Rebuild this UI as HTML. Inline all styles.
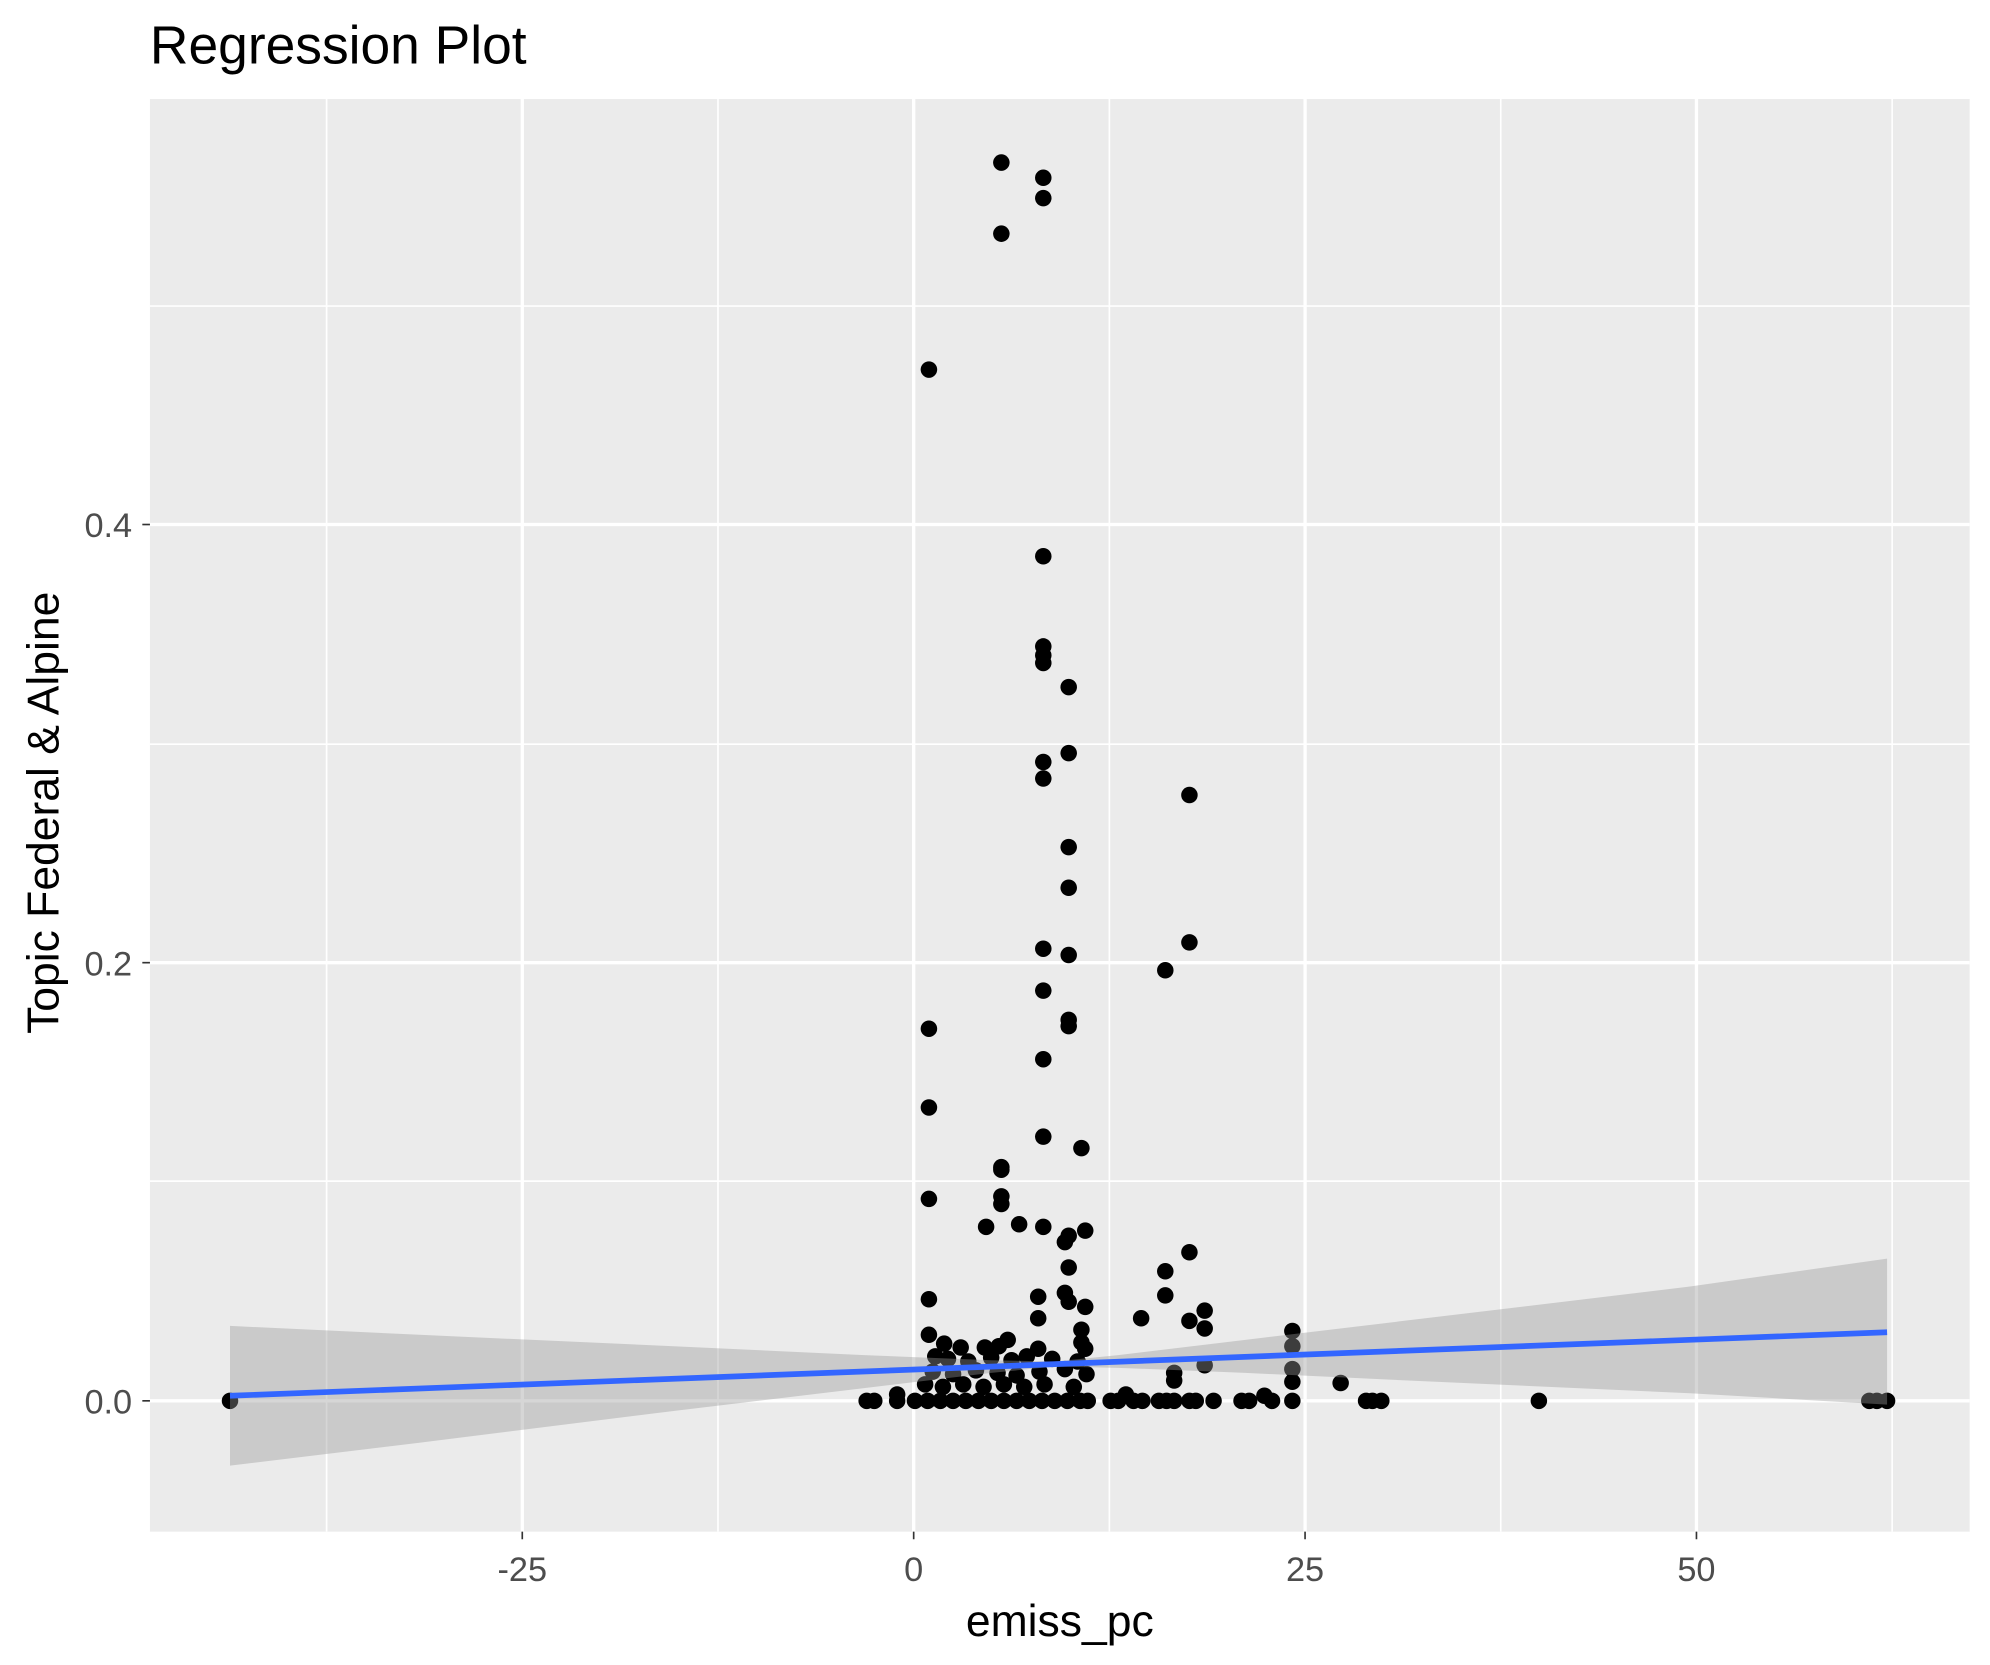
<!DOCTYPE html>
<html><head><meta charset="utf-8"><style>html,body{margin:0;padding:0;background:#fff}svg{display:block}</style></head><body>
<svg width="1990" height="1665" viewBox="0 0 1566 1311" preserveAspectRatio="none" xmlns="http://www.w3.org/2000/svg" font-family="Liberation Sans, Arial, sans-serif">
<rect x="0" y="0" width="1566" height="1311" fill="#fff"/>
<rect x="118" y="78" width="1432" height="1128" fill="#EBEBEB"/>
<g stroke="#fff" stroke-width="1.3">
<line x1="118" x2="1550" y1="930" y2="930"/><line x1="118" x2="1550" y1="586" y2="586"/><line x1="118" x2="1550" y1="241" y2="241"/>
<line x1="257" x2="257" y1="78" y2="1206"/><line x1="565" x2="565" y1="78" y2="1206"/><line x1="873" x2="873" y1="78" y2="1206"/><line x1="1181" x2="1181" y1="78" y2="1206"/><line x1="1489" x2="1489" y1="78" y2="1206"/>
</g>
<g stroke="#fff" stroke-width="2.6">
<line x1="118" x2="1550" y1="1103" y2="1103"/><line x1="118" x2="1550" y1="758" y2="758"/><line x1="118" x2="1550" y1="413" y2="413"/>
<line x1="411" x2="411" y1="78" y2="1206"/><line x1="719" x2="719" y1="78" y2="1206"/><line x1="1027" x2="1027" y1="78" y2="1206"/><line x1="1335" x2="1335" y1="78" y2="1206"/>
</g>
<g fill="#000">
<circle cx="788" cy="128" r="6.5"/><circle cx="821" cy="140" r="6.5"/><circle cx="821" cy="156" r="6.5"/><circle cx="788" cy="184" r="6.5"/><circle cx="731" cy="291" r="6.5"/><circle cx="821" cy="438" r="6.5"/><circle cx="821" cy="509" r="6.5"/><circle cx="821" cy="516" r="6.5"/><circle cx="821" cy="522" r="6.5"/><circle cx="841" cy="541" r="6.5"/><circle cx="841" cy="593" r="6.5"/><circle cx="821" cy="600" r="6.5"/><circle cx="821" cy="613" r="6.5"/><circle cx="936" cy="626" r="6.5"/><circle cx="841" cy="667" r="6.5"/><circle cx="841" cy="699" r="6.5"/><circle cx="821" cy="747" r="6.5"/><circle cx="841" cy="752" r="6.5"/><circle cx="936" cy="742" r="6.5"/><circle cx="917" cy="764" r="6.5"/><circle cx="821" cy="780" r="6.5"/><circle cx="841" cy="803" r="6.5"/><circle cx="841" cy="808" r="6.5"/><circle cx="731" cy="810" r="6.5"/><circle cx="821" cy="834" r="6.5"/><circle cx="731" cy="872" r="6.5"/><circle cx="821" cy="895" r="6.5"/><circle cx="851" cy="904" r="6.5"/><circle cx="788" cy="919" r="6.5"/><circle cx="788" cy="921" r="6.5"/><circle cx="731" cy="944" r="6.5"/><circle cx="788" cy="942" r="6.5"/><circle cx="788" cy="948" r="6.5"/><circle cx="776" cy="966" r="6.5"/><circle cx="802" cy="964" r="6.5"/><circle cx="821" cy="966" r="6.5"/><circle cx="841" cy="973" r="6.5"/><circle cx="838" cy="978" r="6.5"/><circle cx="854" cy="969" r="6.5"/><circle cx="936" cy="986" r="6.5"/><circle cx="841" cy="998" r="6.5"/><circle cx="917" cy="1001" r="6.5"/><circle cx="917" cy="1020" r="6.5"/><circle cx="838" cy="1018" r="6.5"/><circle cx="841" cy="1025" r="6.5"/><circle cx="817" cy="1021" r="6.5"/><circle cx="854" cy="1029" r="6.5"/><circle cx="731" cy="1023" r="6.5"/><circle cx="948" cy="1032" r="6.5"/><circle cx="936" cy="1040" r="6.5"/><circle cx="898" cy="1038" r="6.5"/><circle cx="817" cy="1038" r="6.5"/><circle cx="731" cy="1051" r="6.5"/><circle cx="851" cy="1047" r="6.5"/><circle cx="948" cy="1046" r="6.5"/><circle cx="1017" cy="1048" r="6.5"/><circle cx="793" cy="1055" r="6.5"/><circle cx="851" cy="1057" r="6.5"/><circle cx="854" cy="1062" r="6.5"/><circle cx="756" cy="1061" r="6.5"/><circle cx="743" cy="1058" r="6.5"/><circle cx="775" cy="1061" r="6.5"/><circle cx="786" cy="1060" r="6.5"/><circle cx="817" cy="1062" r="6.5"/>
<circle cx="736" cy="1068" r="6.5"/><circle cx="746" cy="1070" r="6.5"/><circle cx="762" cy="1072" r="6.5"/><circle cx="780" cy="1069" r="6.5"/><circle cx="796" cy="1071" r="6.5"/><circle cx="808" cy="1068" r="6.5"/><circle cx="828" cy="1070" r="6.5"/><circle cx="848" cy="1072" r="6.5"/><circle cx="734" cy="1080" r="6.5"/><circle cx="750" cy="1082" r="6.5"/><circle cx="768" cy="1079" r="6.5"/><circle cx="785" cy="1081" r="6.5"/><circle cx="800" cy="1083" r="6.5"/><circle cx="818" cy="1080" r="6.5"/><circle cx="838" cy="1078" r="6.5"/><circle cx="855" cy="1082" r="6.5"/><circle cx="728" cy="1090" r="6.5"/><circle cx="742" cy="1092" r="6.5"/><circle cx="758" cy="1090" r="6.5"/><circle cx="774" cy="1092" r="6.5"/><circle cx="790" cy="1090" r="6.5"/><circle cx="806" cy="1092" r="6.5"/><circle cx="822" cy="1090" r="6.5"/><circle cx="845" cy="1092" r="6.5"/><circle cx="924" cy="1081" r="6.5"/><circle cx="924" cy="1087" r="6.5"/><circle cx="948" cy="1075" r="6.5"/><circle cx="1017" cy="1078" r="6.5"/><circle cx="1017" cy="1088" r="6.5"/><circle cx="1055" cy="1089" r="6.5"/><circle cx="1017" cy="1060" r="6.5"/>
<circle cx="181" cy="1103" r="6.5"/><circle cx="682" cy="1103" r="6.5"/><circle cx="688" cy="1103" r="6.5"/><circle cx="706" cy="1098" r="6.5"/><circle cx="706" cy="1103" r="6.5"/>
<circle cx="720" cy="1103" r="6.5"/><circle cx="730" cy="1103" r="6.5"/><circle cx="740" cy="1103" r="6.5"/><circle cx="750" cy="1103" r="6.5"/><circle cx="760" cy="1103" r="6.5"/><circle cx="770" cy="1103" r="6.5"/><circle cx="780" cy="1103" r="6.5"/><circle cx="790" cy="1103" r="6.5"/><circle cx="800" cy="1103" r="6.5"/><circle cx="810" cy="1103" r="6.5"/><circle cx="820" cy="1103" r="6.5"/><circle cx="830" cy="1103" r="6.5"/><circle cx="840" cy="1103" r="6.5"/><circle cx="850" cy="1103" r="6.5"/><circle cx="856" cy="1103" r="6.5"/>
<circle cx="874" cy="1103" r="6.5"/><circle cx="880" cy="1103" r="6.5"/><circle cx="886" cy="1098" r="6.5"/><circle cx="892" cy="1103" r="6.5"/><circle cx="899" cy="1103" r="6.5"/><circle cx="912" cy="1103" r="6.5"/><circle cx="918" cy="1103" r="6.5"/><circle cx="924" cy="1103" r="6.5"/><circle cx="936" cy="1103" r="6.5"/><circle cx="941" cy="1103" r="6.5"/><circle cx="955" cy="1103" r="6.5"/><circle cx="977" cy="1103" r="6.5"/><circle cx="983" cy="1103" r="6.5"/><circle cx="995" cy="1099" r="6.5"/><circle cx="1001" cy="1103" r="6.5"/><circle cx="1017" cy="1103" r="6.5"/><circle cx="1075" cy="1103" r="6.5"/><circle cx="1080" cy="1103" r="6.5"/><circle cx="1087" cy="1103" r="6.5"/><circle cx="1211" cy="1103" r="6.5"/><circle cx="1471" cy="1103" r="6.5"/><circle cx="1477" cy="1103" r="6.5"/><circle cx="1485" cy="1103" r="6.5"/>
</g>
<polygon fill="#999" fill-opacity="0.4" points="181,1044 330,1051 530,1060 680,1067 780,1071 830,1072 880,1067 980,1055 1130,1037 1330,1013 1485,991 1485,1106 1330,1097 1130,1088 980,1081 880,1077 830,1076 780,1081 680,1093 530,1111 330,1136 181,1154"/>
<line x1="181" y1="1099" x2="1485" y2="1049" stroke="#3366FF" stroke-width="4.5"/>
<g stroke="#333" stroke-width="1.3">
<line x1="112" x2="118" y1="1103" y2="1103"/><line x1="112" x2="118" y1="758" y2="758"/><line x1="112" x2="118" y1="413" y2="413"/>
<line x1="411" x2="411" y1="1206" y2="1212"/><line x1="719" x2="719" y1="1206" y2="1212"/><line x1="1027" x2="1027" y1="1206" y2="1212"/><line x1="1335" x2="1335" y1="1206" y2="1212"/>
</g>
<g fill="#4D4D4D" font-size="27" text-anchor="end">
<text x="104" y="1113">0.0</text><text x="104" y="768">0.2</text><text x="104" y="423">0.4</text>
</g>
<g fill="#4D4D4D" font-size="27" text-anchor="middle">
<text x="411" y="1245">-25</text><text x="719" y="1245">0</text><text x="1027" y="1245">25</text><text x="1335" y="1245">50</text>
</g>
<text x="834" y="1288" font-size="35" text-anchor="middle" fill="#000">emiss_pc</text>
<text transform="translate(46,640) rotate(-90)" font-size="35" text-anchor="middle" fill="#000">Topic Federal &amp; Alpine</text>
<text x="118" y="50" font-size="42" fill="#000">Regression Plot</text>
</svg>
</body></html>
